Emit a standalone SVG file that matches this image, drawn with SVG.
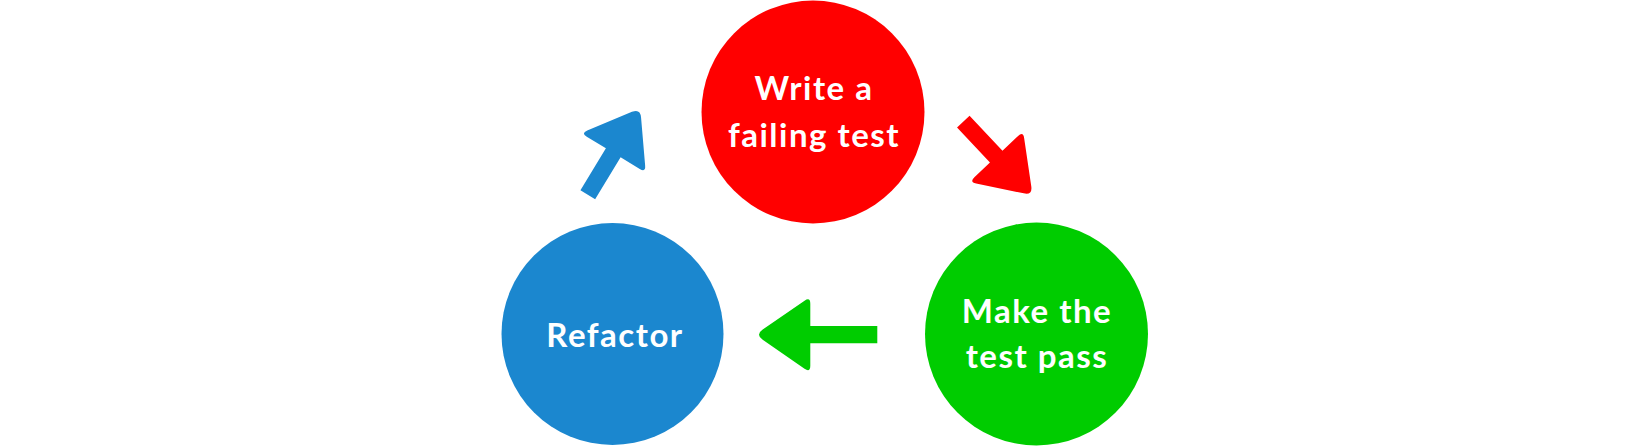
<svg xmlns="http://www.w3.org/2000/svg" width="1650" height="446" viewBox="0 0 1650 446">
<style>
.lbl{font-family:Lato,"Open Sans",Arial,sans-serif;font-weight:700;font-size:33px;letter-spacing:1.5px;fill:#ffffff;text-anchor:middle}
</style>
<rect width="1650" height="446" fill="#ffffff"/>
<g id="connectors">
<path id="arrow-red" fill="#ff0000" transform="translate(963.3,121.7) rotate(46.7)" d="M0,-8.6 L48,-8.6 L48,-30 Q48,-37 53.74,-32.99 L93.62,-5.16 Q101,0 93.62,5.16 L53.74,32.99 Q48,37 48,30 L48,8.6 L0,8.6 Z"/>
<path id="arrow-green" fill="#00cc00" transform="translate(877.3,334.7) rotate(180)" d="M0,-8.6 L67,-8.6 L67,-31 Q67,-38 72.76,-34.02 L114.6,-5.12 Q122,0 114.6,5.12 L72.76,34.02 Q67,38 67,31 L67,8.6 L0,8.6 Z"/>
<path id="arrow-blue" fill="#1b87cf" transform="translate(587.8,194.7) rotate(-58.7)" d="M0,-8.6 L49,-8.6 L49,-31 Q49,-38 54.65,-33.87 L93.74,-5.31 Q101,0 93.74,5.31 L54.65,33.87 Q49,38 49,31 L49,8.6 L0,8.6 Z"/>
</g>
<g id="node-write">
<circle cx="813" cy="112" r="111.5" fill="#ff0000"/>
<text class="lbl" x="814" y="100">Write a</text>
<text class="lbl" x="814" y="147">failing test</text>
</g>
<g id="node-pass">
<circle cx="1036.5" cy="334" r="111.5" fill="#00cc00"/>
<text class="lbl" x="1037" y="323">Make the</text>
<text class="lbl" x="1037" y="368">test pass</text>
</g>
<g id="node-refactor">
<circle cx="612.5" cy="334" r="111" fill="#1b87cf"/>
<text class="lbl" x="615" y="347">Refactor</text>
</g>
</svg>
